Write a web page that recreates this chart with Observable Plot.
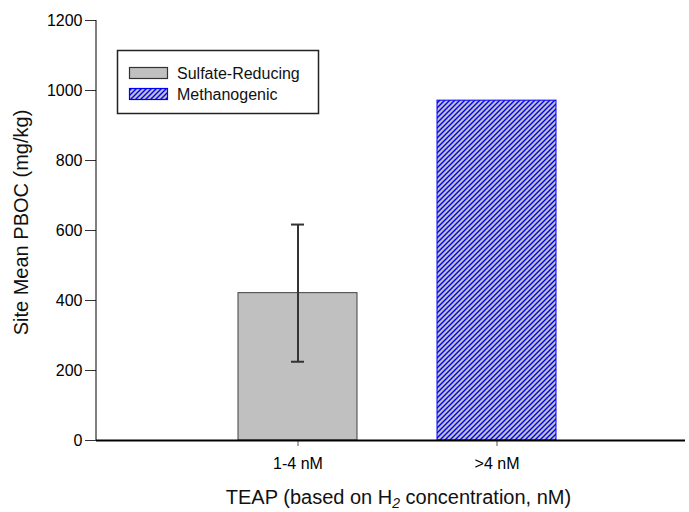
<!DOCTYPE html>
<html>
<head>
<meta charset="utf-8">
<script src="https://cdn.jsdelivr.net/npm/d3@7"></script>
<script src="https://cdn.jsdelivr.net/npm/@observablehq/plot@0.6"></script>
<style>
  html, body { margin: 0; padding: 0; background: white; }
</style>
</head>
<body>
<div id="chart"></div>
<script>
const categories = ["1-4 nM", ">4 nM"];
const series = ["Sulfate-Reducing", "Methanogenic"];
const means = [421, 971];
const errors = [196, 0];
const yTicks = [0, 200, 400, 600, 800, 1000, 1200];
const yLabel = "Site Mean PBOC (mg/kg)";
const xLabelParts = ["TEAP (based on H", "2", " concentration, nM)"];

const data = categories.map((c, i) => ({cat: c, series: series[i], mean: means[i], err: errors[i]}));
const errData = data.filter(d => d.err > 0);

const FONT = "'Liberation Sans', Arial, Helvetica, sans-serif";

const chart = Plot.plot({
  width: 689,
  height: 512,
  marginTop: 20,
  marginBottom: 72,
  marginLeft: 96,
  marginRight: 4,
  style: {fontFamily: FONT, fontSize: "16px", background: "white", color: "black", overflow: "visible"},
  x: {domain: categories, paddingInner: 0.4, paddingOuter: 0.6725, align: 0.524, label: null},
  y: {domain: [0, 1200], label: null},
  marks: [
    Plot.barY(data.filter(d => d.series === series[0]), {x: "cat", y: "mean", fill: "#c0c0c0", stroke: "#404040", strokeWidth: 1}),
    Plot.barY(data.filter(d => d.series === series[1]), {x: "cat", y: "mean", fill: "url(#hatchBlue)", stroke: "#0000ff", strokeWidth: 1}),
    Plot.ruleX(errData, {x: "cat", y1: d => d.mean - d.err, y2: d => d.mean + d.err, stroke: "#333", strokeWidth: 2}),
    Plot.tickY(errData, {x: "cat", y: d => d.mean - d.err, stroke: "#333", strokeWidth: 2, insetLeft: 53, insetRight: 53}),
    Plot.tickY(errData, {x: "cat", y: d => d.mean + d.err, stroke: "#333", strokeWidth: 2, insetLeft: 53, insetRight: 53}),
    Plot.axisY({ticks: yTicks, tickFormat: d => String(d), tickSize: 11, tickPadding: 3, label: null, fontSize: 16, stroke: "#333"}),
    Plot.axisX({tickSize: 6, tickPadding: 11, label: null, fontSize: 16, stroke: "#555"}),
    Plot.ruleY([0], {stroke: "black", strokeWidth: 2}),
    Plot.text([yLabel], {frameAnchor: "left", textAnchor: "middle", rotate: -90, dx: -75, dy: -8, fontSize: 20, fill: "#111"})
  ]
});

const svg = d3.select(chart);
const xs = chart.scale("x");
const ys = chart.scale("y");
const x0 = xs.range[0], x1 = xs.range[1];

// hatch pattern
const defs = svg.insert("defs", ":first-child");
const pat = defs.append("pattern")
  .attr("id", "hatchBlue")
  .attr("patternUnits", "userSpaceOnUse")
  .attr("width", 5).attr("height", 5);
pat.append("rect").attr("width", 5).attr("height", 5).attr("fill", "#c0c0c0");
pat.append("path").attr("d", "M-1,1 L1,-1 M0,5 L5,0 M4,6 L6,4")
  .attr("stroke", "#0000ff").attr("stroke-width", 1.4);

// y axis line
svg.append("line")
  .attr("x1", x0).attr("x2", x0)
  .attr("y1", ys.apply(0)).attr("y2", ys.apply(1200))
  .attr("stroke", "black").attr("stroke-width", 1);

// x axis title with subscript
const xt = svg.append("text")
  .attr("x", (x0 + x1) / 2 + 8)
  .attr("y", 504)
  .attr("text-anchor", "middle")
  .attr("font-family", FONT)
  .attr("font-size", 20)
  .attr("fill", "#111");
xt.append("tspan").text(xLabelParts[0]);
xt.append("tspan").attr("dy", 4).attr("font-size", 14).attr("font-style", "italic").text(xLabelParts[1]);
xt.append("tspan").attr("dy", -4).text(xLabelParts[2]);

// legend
const lg = svg.append("g").attr("font-family", FONT).attr("font-size", 16).attr("text-anchor", "start");
lg.append("rect").attr("x", 117.5).attr("y", 50.5).attr("width", 201).attr("height", 63)
  .attr("fill", "white").attr("stroke", "#222").attr("stroke-width", 1.5);
const items = [
  {label: series[0], fill: "#c0c0c0", stroke: "#333"},
  {label: series[1], fill: "url(#hatchBlue)", stroke: "#0000ff"}
];
items.forEach((it, i) => {
  const y = 67 + i * 21;
  lg.append("rect").attr("x", 129.5).attr("y", y + 0.5).attr("width", 38).attr("height", 11)
    .attr("fill", it.fill).attr("stroke", it.stroke).attr("stroke-width", 1.2);
  lg.append("text").attr("x", 177).attr("y", y + 11.5).attr("text-anchor", "start").attr("fill", "#111").text(it.label);
});

document.getElementById("chart").appendChild(chart);
</script>
</body>
</html>
